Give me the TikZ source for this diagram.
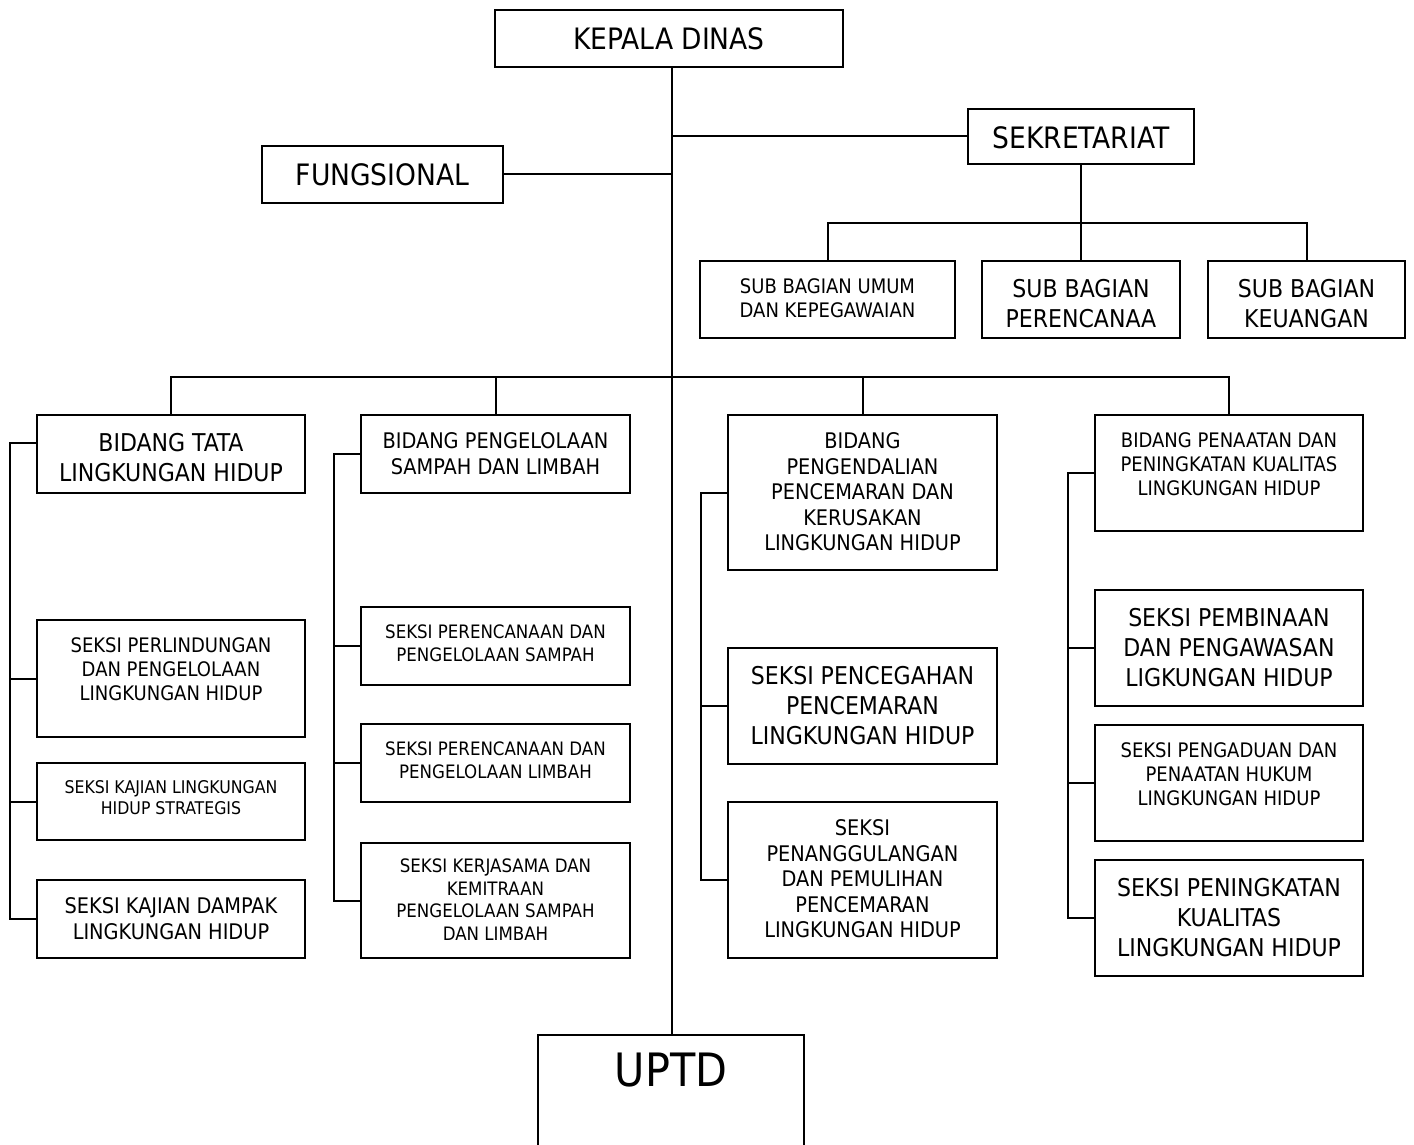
\documentclass[tikz,border=0pt]{standalone}
\usepackage{fontspec}
\setmainfont{DejaVu Sans Condensed}
\begin{document}
\begin{tikzpicture}[x=1pt, y=-1pt, line width=2pt]
        \tikzstyle{unit}=[draw, inner sep=0pt, outer sep=0pt, anchor=north west]
        \tikzstyle{txt}=[anchor=north, align=center, inner sep=0pt]
        \tikzstyle{fhuge}=[font=\fontsize{46pt}{54pt}\selectfont]
        \tikzstyle{fbig}=[font=\fontsize{29.5pt}{36pt}\selectfont]
        \tikzstyle{flarge}=[font=\fontsize{24.5pt}{30pt}\selectfont]
        \tikzstyle{fmid}=[font=\fontsize{21.5pt}{25.5pt}\selectfont]
        \tikzstyle{fsmall}=[font=\fontsize{20pt}{24pt}\selectfont]
        \tikzstyle{ftiny}=[font=\fontsize{18.5pt}{22.5pt}\selectfont]
        \tikzstyle{fmini}=[font=\fontsize{17.5pt}{20.5pt}\selectfont]
        \useasboundingbox (0,0) rectangle (1414,1145);
        \clip (0,0) rectangle (1414,1145);
        % top level
        \node[unit, minimum width=348pt, minimum height=57pt] (kepala) at (495,10) {};
        \node[txt, fbig] (t-kepala) at ([yshift=-17pt]kepala.north) {KEPALA DINAS};
        \node[unit, minimum width=226pt, minimum height=55pt] (sekretariat) at (968,109) {};
        \node[txt, fbig] (t-sekretariat) at ([yshift=-17pt]sekretariat.north) {SEKRETARIAT};
        \node[unit, minimum width=241pt, minimum height=57pt] (fungsional) at (262,146) {};
        \node[txt, fbig] (t-fungsional) at ([yshift=-17pt]fungsional.north) {FUNGSIONAL};
        \node[unit, minimum width=266pt, minimum height=140pt] (uptd) at (538,1035) {};
        \node[txt, fhuge] (t-uptd) at ([yshift=-17pt]uptd.north) {UPTD};
        % sub bagian
        \node[unit, minimum width=255pt, minimum height=77pt] (umum) at (700,261) {};
        \node[txt, fsmall] (t-umum) at ([yshift=-17pt]umum.north) {SUB BAGIAN UMUM\\DAN KEPEGAWAIAN};
        \node[unit, minimum width=198pt, minimum height=77pt] (renc) at (982,261) {};
        \node[txt, flarge] (t-renc) at ([yshift=-17pt]renc.north) {SUB BAGIAN\\PERENCANAA};
        \node[unit, minimum width=197pt, minimum height=77pt] (keu) at (1208,261) {};
        \node[txt, flarge] (t-keu) at ([yshift=-17pt]keu.north) {SUB BAGIAN\\KEUANGAN};
        % bidang tata lingkungan
        \node[unit, minimum width=268pt, minimum height=78pt] (tata) at (37,415) {};
        \node[txt, flarge] (t-tata) at ([yshift=-17pt]tata.north) {BIDANG TATA\\LINGKUNGAN HIDUP};
        \node[unit, minimum width=268pt, minimum height=117pt] (perlind) at (37,620) {};
        \node[txt, fsmall] (t-perlind) at ([yshift=-17pt]perlind.north) {SEKSI PERLINDUNGAN\\DAN PENGELOLAAN\\LINGKUNGAN HIDUP};
        \node[unit, minimum width=268pt, minimum height=77pt] (strategis) at (37,763) {};
        \node[txt, fmini] (t-strategis) at ([yshift=-17pt]strategis.north) {SEKSI KAJIAN LINGKUNGAN\\HIDUP STRATEGIS};
        \node[unit, minimum width=268pt, minimum height=78pt] (dampak) at (37,880) {};
        \node[txt, fmid] (t-dampak) at ([yshift=-17pt]dampak.north) {SEKSI KAJIAN DAMPAK\\LINGKUNGAN HIDUP};
        % bidang pengelolaan sampah
        \node[unit, minimum width=269pt, minimum height=78pt] (kelola) at (361,415) {};
        \node[txt, fmid] (t-kelola) at ([yshift=-17pt]kelola.north) {BIDANG PENGELOLAAN\\SAMPAH DAN LIMBAH};
        \node[unit, minimum width=269pt, minimum height=78pt] (sampah) at (361,607) {};
        \node[txt, ftiny] (t-sampah) at ([yshift=-17pt]sampah.north) {SEKSI PERENCANAAN DAN\\PENGELOLAAN SAMPAH};
        \node[unit, minimum width=269pt, minimum height=78pt] (limbah) at (361,724) {};
        \node[txt, ftiny] (t-limbah) at ([yshift=-17pt]limbah.north) {SEKSI PERENCANAAN DAN\\PENGELOLAAN LIMBAH};
        \node[unit, minimum width=269pt, minimum height=115pt] (kerjasama) at (361,843) {};
        \node[txt, ftiny] (t-kerjasama) at ([yshift=-15pt]kerjasama.north) {SEKSI KERJASAMA DAN\\KEMITRAAN\\PENGELOLAAN SAMPAH\\DAN LIMBAH};
        % bidang pengendalian
        \node[unit, minimum width=269pt, minimum height=155pt] (kendali) at (728,415) {};
        \node[txt, fmid] (t-kendali) at ([yshift=-17pt]kendali.north) {BIDANG\\PENGENDALIAN\\PENCEMARAN DAN\\KERUSAKAN\\LINGKUNGAN HIDUP};
        \node[unit, minimum width=269pt, minimum height=116pt] (cegah) at (728,648) {};
        \node[txt, flarge] (t-cegah) at ([yshift=-17pt]cegah.north) {SEKSI PENCEGAHAN\\PENCEMARAN\\LINGKUNGAN HIDUP};
        \node[unit, minimum width=269pt, minimum height=156pt] (tanggul) at (728,802) {};
        \node[txt, fmid] (t-tanggul) at ([yshift=-17pt]tanggul.north) {SEKSI\\PENANGGULANGAN\\DAN PEMULIHAN\\PENCEMARAN\\LINGKUNGAN HIDUP};
        % bidang penaatan
        \node[unit, minimum width=268pt, minimum height=116pt] (taat) at (1095,415) {};
        \node[txt, fsmall] (t-taat) at ([yshift=-17pt]taat.north) {BIDANG PENAATAN DAN\\PENINGKATAN KUALITAS\\LINGKUNGAN HIDUP};
        \node[unit, minimum width=268pt, minimum height=116pt] (bina) at (1095,590) {};
        \node[txt, flarge] (t-bina) at ([yshift=-17pt]bina.north) {SEKSI PEMBINAAN\\DAN PENGAWASAN\\LIGKUNGAN HIDUP};
        \node[unit, minimum width=268pt, minimum height=116pt] (adu) at (1095,725) {};
        \node[txt, fsmall] (t-adu) at ([yshift=-17pt]adu.north) {SEKSI PENGADUAN DAN\\PENAATAN HUKUM\\LINGKUNGAN HIDUP};
        \node[unit, minimum width=268pt, minimum height=116pt] (tingkat) at (1095,860) {};
        \node[txt, flarge] (t-tingkat) at ([yshift=-17pt]tingkat.north) {SEKSI PENINGKATAN\\KUALITAS\\LINGKUNGAN HIDUP};
        % connectors
        \coordinate (spine) at (672,67);
        \coordinate (sbar) at (1081,223);
        \coordinate (mbar) at (672,377);
        \coordinate (rail1) at (10,443);
        \coordinate (rail2) at (334,455);
        \coordinate (rail3) at (701,492);
        \coordinate (rail4) at (1068,474);
        \draw (spine) -- (spine |- uptd.north);
        \draw (sekretariat.west) -- (sekretariat.west -| spine);
        \draw (fungsional.east) -- (fungsional.east -| spine);
        \draw (sekretariat.south) -- (sbar);
        \draw (umum.north) |- (sbar) -| (keu.north);
        \draw (sbar) -- (renc.north);
        \draw (tata.north) |- (mbar) -| (taat.north);
        \foreach \n in {kelola, kendali}
            \draw (\n.north) -- (\n.north |- mbar);
        \draw ([yshift=11pt]tata.west) -| (rail1 |- dampak.west) -- (dampak.west);
        \foreach \n in {perlind, strategis}
            \draw (\n.west) -- (\n.west -| rail1);
        \draw (kelola.west) -| (rail2 |- kerjasama.west) -- (kerjasama.west);
        \foreach \n in {sampah, limbah}
            \draw (\n.west) -- (\n.west -| rail2);
        \draw (kendali.west) -| (rail3 |- tanggul.west) -- (tanggul.west);
        \draw (cegah.west) -- (cegah.west -| rail3);
        \draw (taat.west) -| (rail4 |- tingkat.west) -- (tingkat.west);
        \foreach \n in {bina, adu}
            \draw (\n.west) -- (\n.west -| rail4);
    \end{tikzpicture}
\end{document}
